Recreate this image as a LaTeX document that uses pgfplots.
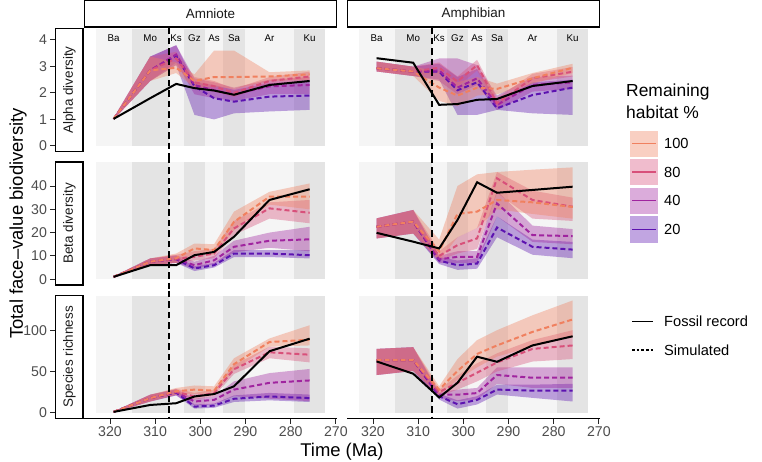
\documentclass[border=0pt]{standalone}
\usepackage{pgfplots}
\pgfplotsset{compat=1.18}
\usepackage{fontspec}
\setmainfont{Liberation Sans}
\definecolor{cA}{HTML}{F0805F}
\definecolor{cB}{HTML}{D8507A}
\definecolor{cC}{HTML}{A0249F}
\definecolor{cD}{HTML}{5C12B0}
\definecolor{bandL}{HTML}{F5F5F5}
\definecolor{bandD}{HTML}{E4E4E4}
\definecolor{tickgray}{HTML}{4D4D4D}
\definecolor{striptext}{HTML}{1A1A1A}
\newcommand\tfont{\fontsize{14.2}{16}\selectfont}
\newcommand\stfont{\fontsize{13.5}{16}\selectfont}
\newcommand\lfont{\fontsize{14.7}{17}\selectfont}
\newcommand\ltfont{\fontsize{17.5}{20}\selectfont}
\newcommand\sfont{\fontsize{9.8}{11}\selectfont}
\newcommand\afont{\fontsize{18.5}{21}\selectfont}
\pgfplotsset{
  panel/.style={scale only axis, width=253bp, height=123bp, anchor=north west,
    x dir=reverse, xmin=269.75, xmax=325.75, clip=false,
    tick align=outside, major tick length=5bp,
    tick style={color=black!85, line width=0.9bp},
    axis line style={line width=1.1bp, black},
    /pgf/number format/assume math mode=true,
    ticklabel style={font=\tfont, text=tickgray},
    xtick={270,280,...,320}},
  leftcol/.style={axis y line*=left, axis y line shift=28.5bp},
  rightcol/.style={axis y line=none},
  botrow/.style={axis x line*=bottom},
  notbot/.style={axis x line=none},
}
\newcommand{\bands}[1]{%
  \fill[bandL] (axis cs:323.2,0) rectangle (axis cs:315.2,#1);
  \fill[bandD] (axis cs:315.2,0) rectangle (axis cs:307.0,#1);
  \fill[bandL] (axis cs:307.0,0) rectangle (axis cs:303.7,#1);
  \fill[bandD] (axis cs:303.7,0) rectangle (axis cs:298.9,#1);
  \fill[bandL] (axis cs:298.9,0) rectangle (axis cs:295.0,#1);
  \fill[bandD] (axis cs:295.0,0) rectangle (axis cs:290.1,#1);
  \fill[bandL] (axis cs:290.1,0) rectangle (axis cs:279.3,#1);
  \fill[bandD] (axis cs:279.3,0) rectangle (axis cs:272.3,#1);
}
\newcommand{\stages}[1]{%
  \node[font=\sfont] at (axis cs:319.2,#1) {Ba};
  \node[font=\sfont] at (axis cs:311.1,#1) {Mo};
  \node[font=\sfont] at (axis cs:305.35,#1) {Ks};
  \node[font=\sfont] at (axis cs:301.3,#1) {Gz};
  \node[font=\sfont] at (axis cs:296.95,#1) {As};
  \node[font=\sfont] at (axis cs:292.55,#1) {Sa};
  \node[font=\sfont] at (axis cs:284.7,#1) {Ar};
  \node[font=\sfont] at (axis cs:275.8,#1) {Ku};
}
\newcommand{\rib}[2]{\addplot[draw=none, fill=#1, fill opacity=0.38, forget plot] coordinates {#2};}
\newcommand{\simline}[2]{\addplot[#1, line width=2bp, dash pattern=on 5bp off 3bp, forget plot] coordinates {#2};}
\newcommand{\fos}[1]{\addplot[black, line width=2bp, forget plot] coordinates {#1};}
\newcommand{\collapseline}[2]{\draw[black, line width=1.6bp, dash pattern=on 6.5bp off 4bp] (axis cs:307,#1) -- (axis cs:307,#2);}
\begin{document}
\begin{tikzpicture}
\useasboundingbox (0,0) rectangle (762bp,-462bp);
% ---------------- Amniote alpha
\begin{axis}[panel, leftcol, notbot, at={(84bp,-28.5bp)}, ymin=-0.211, ymax=4.431, ytick={0,1,2,3,4}]
\bands{4.431}
\rib{cD}{(319.2,1.05)(311.1,3.37)(305.35,3.80)(301.3,2.40)(296.95,2.30)(292.55,2.11)(284.7,2.37)(275.8,2.43)(275.8,1.36)(284.7,1.30)(292.55,1.23)(296.95,1.00)(301.3,1.17)(305.35,3.05)(311.1,2.45)(319.2,1.0)}
\rib{cC}{(319.2,1.05)(311.1,3.37)(305.35,3.80)(301.3,2.55)(296.95,2.40)(292.55,2.20)(284.7,2.50)(275.8,2.60)(275.8,1.95)(284.7,1.95)(292.55,1.70)(296.95,1.80)(301.3,1.95)(305.35,3.15)(311.1,2.45)(319.2,1.0)}
\rib{cB}{(319.2,1.05)(311.1,3.37)(305.35,3.55)(301.3,2.60)(296.95,2.45)(292.55,2.15)(284.7,2.60)(275.8,2.80)(275.8,2.45)(284.7,2.30)(292.55,1.85)(296.95,2.05)(301.3,2.20)(305.35,3.05)(311.1,2.45)(319.2,1.0)}
\rib{cA}{(319.2,1.05)(311.1,3.37)(305.35,3.15)(301.3,2.70)(296.95,3.60)(292.55,3.60)(284.7,2.78)(275.8,2.85)(275.8,2.50)(284.7,2.45)(292.55,2.15)(296.95,2.25)(301.3,2.20)(305.35,2.75)(311.1,2.45)(319.2,1.0)}
\simline{cD}{(319.2,1.02)(311.1,2.85)(305.35,3.40)(301.3,2.25)(296.95,1.80)(292.55,1.67)(284.7,1.86)(275.8,1.90)}
\simline{cC}{(319.2,1.02)(311.1,2.85)(305.35,3.45)(301.3,2.30)(296.95,2.10)(292.55,1.95)(284.7,2.25)(275.8,2.30)}
\simline{cB}{(319.2,1.02)(311.1,2.85)(305.35,3.30)(301.3,2.40)(296.95,2.25)(292.55,2.00)(284.7,2.45)(275.8,2.62)}
\simline{cA}{(319.2,1.02)(311.1,2.85)(305.35,2.95)(301.3,2.45)(296.95,2.60)(292.55,2.60)(284.7,2.62)(275.8,2.70)}
\fos{(319.2,1.02)(311.1,1.80)(305.35,2.34)(301.3,2.18)(296.95,2.09)(292.55,1.93)(284.7,2.30)(275.8,2.45)}
\stages{4.05}
\collapseline{4.48}{-0.40}
\end{axis}
% ---------------- Amphibian alpha
\begin{axis}[panel, rightcol, notbot, at={(347bp,-28.5bp)}, ymin=-0.211, ymax=4.431]
\bands{4.431}
\rib{cD}{(319.2,3.18)(311.1,2.99)(305.35,3.10)(301.3,2.60)(296.95,2.90)(292.55,1.70)(284.7,2.40)(275.8,2.50)(275.8,1.17)(284.7,1.23)(292.55,1.36)(296.95,1.17)(301.3,1.17)(305.35,2.50)(311.1,2.64)(319.2,2.81)}
\rib{cC}{(319.2,3.18)(311.1,2.99)(305.35,3.30)(301.3,3.30)(296.95,3.05)(292.55,1.90)(284.7,2.60)(275.8,2.65)(275.8,2.15)(284.7,2.05)(292.55,1.35)(296.95,2.30)(301.3,1.95)(305.35,2.45)(311.1,2.64)(319.2,2.81)}
\rib{cB}{(319.2,3.18)(311.1,2.99)(305.35,3.15)(301.3,2.62)(296.95,3.25)(292.55,1.80)(284.7,2.72)(275.8,2.98)(275.8,2.62)(284.7,2.40)(292.55,1.45)(296.95,2.85)(301.3,2.25)(305.35,2.75)(311.1,2.64)(319.2,2.81)}
\rib{cA}{(319.2,3.18)(311.1,2.99)(305.35,2.80)(301.3,2.40)(296.95,2.60)(292.55,2.35)(284.7,2.75)(275.8,3.10)(275.8,2.75)(284.7,2.35)(292.55,1.95)(296.95,1.90)(301.3,1.50)(305.35,1.70)(311.1,2.64)(319.2,2.81)}
\simline{cD}{(319.2,2.93)(311.1,2.81)(305.35,2.80)(301.3,2.10)(296.95,2.40)(292.55,1.42)(284.7,1.92)(275.8,2.20)}
\simline{cC}{(319.2,2.93)(311.1,2.81)(305.35,2.85)(301.3,2.20)(296.95,2.55)(292.55,1.55)(284.7,2.30)(275.8,2.40)}
\simline{cB}{(319.2,2.93)(311.1,2.81)(305.35,2.95)(301.3,2.43)(296.95,3.05)(292.55,1.61)(284.7,2.55)(275.8,2.80)}
\simline{cA}{(319.2,2.93)(311.1,2.81)(305.35,2.20)(301.3,1.90)(296.95,2.20)(292.55,2.15)(284.7,2.55)(275.8,2.95)}
\fos{(319.2,3.31)(311.1,3.14)(305.35,1.55)(301.3,1.58)(296.95,1.74)(292.55,1.77)(284.7,2.26)(275.8,2.45)}
\stages{4.05}
\collapseline{4.48}{-0.40}
\end{axis}
% ---------------- Amniote beta
\begin{axis}[panel, leftcol, notbot, at={(84bp,-162bp)}, ymin=-2.5, ymax=50.3, ytick={0,10,20,30,40}]
\bands{50.3}
\rib{cD}{(319.2,1.2)(311.1,8.9)(305.35,10.0)(301.3,5.5)(296.95,7.0)(292.55,12.5)(284.7,12.5)(275.8,12.5)(275.8,8.9)(284.7,9.5)(292.55,9.5)(296.95,5.0)(301.3,3.5)(305.35,7.0)(311.1,6.0)(319.2,0.8)}
\rib{cC}{(319.2,1.2)(311.1,8.9)(305.35,10.3)(301.3,7.5)(296.95,10.0)(292.55,16.5)(284.7,20.0)(275.8,22.5)(275.8,12.0)(284.7,13.5)(292.55,11.5)(296.95,6.5)(301.3,4.5)(305.35,7.0)(311.1,6.0)(319.2,0.8)}
\rib{cB}{(319.2,1.2)(311.1,8.9)(305.35,10.5)(301.3,12.0)(296.95,13.0)(292.55,25.0)(284.7,33.0)(275.8,34.0)(275.8,24.0)(284.7,26.0)(292.55,19.0)(296.95,9.0)(301.3,8.0)(305.35,7.0)(311.1,6.0)(319.2,0.8)}
\rib{cA}{(319.2,1.2)(311.1,8.9)(305.35,11.0)(301.3,15.3)(296.95,15.0)(292.55,29.0)(284.7,37.5)(275.8,41.1)(275.8,30.0)(284.7,32.0)(292.55,21.0)(296.95,10.5)(301.3,11.0)(305.35,7.0)(311.1,6.0)(319.2,0.8)}
\simline{cD}{(319.2,1.0)(311.1,7.5)(305.35,8.6)(301.3,4.6)(296.95,6.0)(292.55,11.0)(284.7,11.0)(275.8,10.3)}
\simline{cC}{(319.2,1.0)(311.1,7.5)(305.35,8.7)(301.3,6.0)(296.95,8.1)(292.55,13.9)(284.7,16.5)(275.8,17.1)}
\simline{cB}{(319.2,1.0)(311.1,7.5)(305.35,8.8)(301.3,9.6)(296.95,11.0)(292.55,21.8)(284.7,30.4)(275.8,28.5)}
\simline{cA}{(319.2,1.0)(311.1,7.5)(305.35,9.0)(301.3,13.2)(296.95,12.5)(292.55,24.6)(284.7,35.4)(275.8,35.4)}
\fos{(319.2,1.0)(311.1,6.0)(305.35,6.0)(301.3,10.3)(296.95,11.7)(292.55,18.2)(284.7,34.0)(275.8,38.6)}
\collapseline{52.45}{-4.65}
\end{axis}
% ---------------- Amphibian beta
\begin{axis}[panel, rightcol, notbot, at={(347bp,-162bp)}, ymin=-2.5, ymax=50.3]
\bands{50.3}
\rib{cD}{(319.2,26.1)(311.1,29.7)(305.35,9.5)(301.3,8.0)(296.95,9.0)(292.55,27.0)(284.7,17.0)(275.8,16.0)(275.8,9.0)(284.7,10.5)(292.55,18.0)(296.95,4.5)(301.3,4.0)(305.35,6.5)(311.1,19.6)(319.2,17.5)}
\rib{cC}{(319.2,26.1)(311.1,29.7)(305.35,10.0)(301.3,12.0)(296.95,12.0)(292.55,38.0)(284.7,23.0)(275.8,21.5)(275.8,15.0)(284.7,16.0)(292.55,27.0)(296.95,7.0)(301.3,7.0)(305.35,7.0)(311.1,19.6)(319.2,17.5)}
\rib{cB}{(319.2,26.1)(311.1,29.7)(305.35,12.0)(301.3,18.0)(296.95,22.0)(292.55,46.0)(284.7,38.0)(275.8,35.0)(275.8,25.0)(284.7,26.0)(292.55,37.0)(296.95,13.0)(301.3,11.0)(305.35,8.0)(311.1,19.6)(319.2,17.5)}
\rib{cA}{(319.2,26.1)(311.1,29.7)(305.35,17.0)(301.3,40.0)(296.95,45.0)(292.55,46.0)(284.7,47.0)(275.8,48.0)(275.8,26.0)(284.7,28.0)(292.55,30.0)(296.95,22.0)(301.3,18.0)(305.35,8.0)(311.1,19.6)(319.2,17.5)}
\simline{cD}{(319.2,22.5)(311.1,24.7)(305.35,8.0)(301.3,6.0)(296.95,6.7)(292.55,22.2)(284.7,13.9)(275.8,12.7)}
\simline{cC}{(319.2,22.5)(311.1,24.7)(305.35,8.5)(301.3,9.6)(296.95,9.6)(292.55,32.5)(284.7,18.9)(275.8,18.5)}
\simline{cB}{(319.2,22.5)(311.1,24.7)(305.35,10.0)(301.3,14.6)(296.95,17.5)(292.55,43.3)(284.7,34.0)(275.8,31.1)}
\simline{cA}{(319.2,22.5)(311.1,24.7)(305.35,12.0)(301.3,28.0)(296.95,29.0)(292.55,34.0)(284.7,33.0)(275.8,31.0)}
\fos{(319.2,19.9)(311.1,16.1)(305.35,13.2)(301.3,25.4)(296.95,41.6)(292.55,37.1)(284.7,38.3)(275.8,39.7)}
\collapseline{52.45}{-4.65}
\end{axis}
% ---------------- Amniote species
\begin{axis}[panel, leftcol, botrow, at={(84bp,-295.5bp)}, ymin=-7, ymax=142, ytick={0,50,100}]
\bands{142}
\rib{cD}{(319.2,1.5)(311.1,21.8)(305.35,28)(301.3,10)(296.95,11)(292.55,21)(284.7,24)(275.8,22)(275.8,13)(284.7,15)(292.55,13)(296.95,6)(301.3,5)(305.35,21)(311.1,13.6)(319.2,0.5)}
\rib{cC}{(319.2,1.5)(311.1,21.8)(305.35,28.5)(301.3,17)(296.95,20)(292.55,38)(284.7,48)(275.8,53)(275.8,14)(284.7,17)(292.55,20)(296.95,10)(301.3,9)(305.35,21)(311.1,13.6)(319.2,0.5)}
\rib{cB}{(319.2,1.5)(311.1,21.8)(305.35,29)(301.3,24)(296.95,28)(292.55,58)(284.7,80)(275.8,78)(275.8,61)(284.7,66)(292.55,47)(296.95,20)(301.3,16)(305.35,22)(311.1,13.6)(319.2,0.5)}
\rib{cA}{(319.2,1.5)(311.1,21.8)(305.35,30)(301.3,33)(296.95,32)(292.55,66)(284.7,90)(275.8,106)(275.8,81.5)(284.7,80)(292.55,52)(296.95,22)(301.3,23)(305.35,22)(311.1,13.6)(319.2,0.5)}
\simline{cD}{(319.2,1)(311.1,17.7)(305.35,24.5)(301.3,7.4)(296.95,8.6)(292.55,16.9)(284.7,19.7)(275.8,17.7)}
\simline{cC}{(319.2,1)(311.1,17.7)(305.35,25)(301.3,13.6)(296.95,15.6)(292.55,28)(284.7,36.2)(275.8,39.1)}
\simline{cB}{(319.2,1)(311.1,17.7)(305.35,25.5)(301.3,19.7)(296.95,23.8)(292.55,52.7)(284.7,73.2)(275.8,70.3)}
\simline{cA}{(319.2,1)(311.1,17.7)(305.35,26)(301.3,28)(296.95,26.7)(292.55,58.8)(284.7,85.6)(275.8,88.5)}
\fos{(319.2,1)(311.1,9.4)(305.35,11.5)(301.3,19.7)(296.95,22.6)(292.55,32)(284.7,74.5)(275.8,89.7)}
\collapseline{148}{-7}
\end{axis}
% ---------------- Amphibian species
\begin{axis}[panel, rightcol, botrow, at={(347bp,-295.5bp)}, ymin=-7, ymax=142]
\bands{142}
\rib{cD}{(319.2,77.3)(311.1,79.4)(305.35,23)(301.3,15)(296.95,20)(292.55,34)(284.7,34)(275.8,35)(275.8,13.6)(284.7,18)(292.55,22)(296.95,10)(301.3,5)(305.35,16)(311.1,50.6)(319.2,45.7)}
\rib{cC}{(319.2,77.3)(311.1,79.4)(305.35,25)(301.3,28)(296.95,30)(292.55,55)(284.7,55)(275.8,55)(275.8,30)(284.7,30)(292.55,35)(296.95,16)(301.3,14)(305.35,18)(311.1,50.6)(319.2,45.7)}
\rib{cB}{(319.2,77.3)(311.1,79.4)(305.35,28)(301.3,45)(296.95,60)(292.55,72)(284.7,88)(275.8,100)(275.8,65)(284.7,62)(292.55,50)(296.95,38)(301.3,28)(305.35,20)(311.1,50.6)(319.2,45.7)}
\rib{cA}{(319.2,77.3)(311.1,79.4)(305.35,32)(301.3,65)(296.95,88)(292.55,100)(284.7,118)(275.8,136)(275.8,92)(284.7,80)(292.55,68)(296.95,55)(301.3,40)(305.35,22)(311.1,50.6)(319.2,45.7)}
\simline{cD}{(319.2,63.8)(311.1,63.8)(305.35,20)(301.3,10.3)(296.95,15.6)(292.55,28)(284.7,26.7)(275.8,26.7)}
\simline{cC}{(319.2,63.8)(311.1,63.8)(305.35,22)(301.3,21.8)(296.95,23.8)(292.55,45.7)(284.7,42.4)(275.8,42.4)}
\simline{cB}{(319.2,63.8)(311.1,63.8)(305.35,25)(301.3,36.2)(296.95,48.5)(292.55,60.9)(284.7,77.3)(275.8,81.5)}
\simline{cA}{(319.2,63.8)(311.1,63.8)(305.35,28)(301.3,50.6)(296.95,71.2)(292.55,81.5)(284.7,97.9)(275.8,113)}
\fos{(319.2,62.1)(311.1,47.3)(305.35,18.5)(301.3,36.2)(296.95,67.9)(292.55,61.7)(284.7,81.5)(275.8,92.6)}
\collapseline{148}{-7}
\end{axis}
% ---------------- strips, titles, legend
\begin{scope}[x=1bp, y=1bp]
\tikzset{strip/.style={draw=black, line width=1.2bp, fill=white}}
\draw[strip] (84.5,-0.7) rectangle (336.5,-27);
\node[font=\stfont, text=striptext] at (210.5,-13.8) {Amniote};
\draw[strip] (347.5,-0.7) rectangle (599.5,-27);
\node[font=\stfont, text=striptext] at (473.5,-13.8) {Amphibian};
\draw[strip] (55.5,-28.5) rectangle (83,-151.5);
\node[font=\stfont, text=striptext, rotate=90] at (69.5,-90) {Alpha diversity};
\draw[strip] (55.5,-162) rectangle (83,-285);
\node[font=\stfont, text=striptext, rotate=90] at (69.5,-223.5) {Beta diversity};
\draw[strip] (55.5,-295.5) rectangle (83,-418.5);
\node[font=\stfont, text=striptext, rotate=90] at (69.5,-357) {Species richness};
\node[font=\afont, rotate=90] at (18,-223.5) {Total face\textendash value biodiversity};
\node[font=\afont] at (342,-452) {Time (Ma)};
% legend
\node[font=\ltfont, anchor=west, inner sep=0pt] at (626,-92) {Remaining};
\node[font=\ltfont, anchor=west, inner sep=0pt] at (626,-112) {habitat \%};
\fill[cA!38!white] (630,-130.5) rectangle (657.5,-156.5);
\fill[cB!38!white] (630,-159) rectangle (657.5,-185);
\fill[cC!38!white] (630,-187.5) rectangle (657.5,-213.5);
\fill[cD!38!white] (630,-216) rectangle (657.5,-242.5);
\draw[cA, line width=1.4bp] (632,-143.5) -- (655.5,-143.5);
\draw[cB, line width=1.4bp] (632,-172) -- (655.5,-172);
\draw[cC, line width=1.4bp] (632,-200.5) -- (655.5,-200.5);
\draw[cD, line width=1.4bp] (632,-229.2) -- (655.5,-229.2);
\node[font=\lfont, anchor=west, inner sep=0pt] at (664,-143.5) {100};
\node[font=\lfont, anchor=west, inner sep=0pt] at (664,-172) {80};
\node[font=\lfont, anchor=west, inner sep=0pt] at (664,-200.5) {40};
\node[font=\lfont, anchor=west, inner sep=0pt] at (664,-229.2) {20};
\draw[black, line width=1.4bp] (632,-321.7) -- (653,-321.7);
\draw[black, line width=1.4bp, dash pattern=on 2.5bp off 2.2bp] (632,-350) -- (653,-350);
\node[font=\lfont, anchor=west, inner sep=0pt] at (664,-321.7) {Fossil record};
\node[font=\lfont, anchor=west, inner sep=0pt] at (664,-350) {Simulated};
\end{scope}
\end{tikzpicture}
\end{document}
